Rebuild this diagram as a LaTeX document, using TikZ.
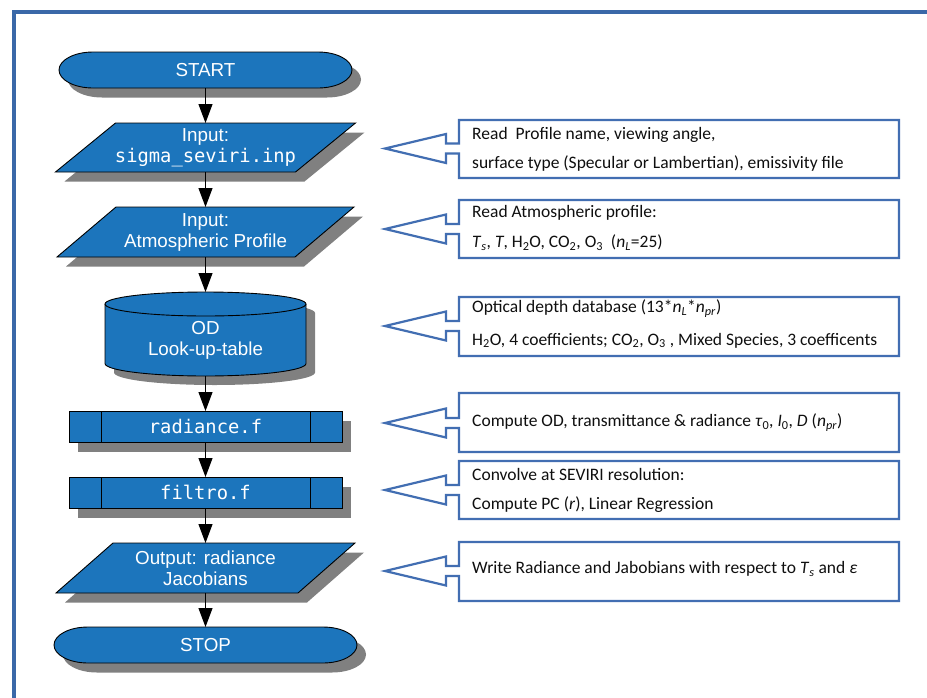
\documentclass[tikz,border=0pt]{standalone}
\usepackage{fontspec}
\setmainfont{Carlito}
\newfontfamily\lsans{Liberation Sans}
\newfontfamily\dmono{DejaVu Sans Mono}
\usetikzlibrary{arrows.meta}
\definecolor{fillblue}{RGB}{28,117,188}
\definecolor{shadowgray}{RGB}{128,128,128}
\definecolor{frameblue}{RGB}{58,104,168}
\definecolor{callblue}{RGB}{66,110,178}
\definecolor{txtdark}{RGB}{15,15,15}
\newcommand{\termshape}[3]{(#1+34,#3+18) -- (#2-34,#3+18) arc[start angle=90,end angle=-90,x radius=34,y radius=18] -- (#1+34,#3-18) arc[start angle=270,end angle=90,x radius=34,y radius=18] -- cycle}
\newcommand{\parashape}[5]{(#1-#3+#4,#2+#5) -- (#1+#3+#4,#2+#5) -- (#1+#3-#4,#2-#5) -- (#1-#3-#4,#2-#5) -- cycle}
\newcommand{\procshape}[1]{(69,#1+15.5) rectangle (342,#1-15.5)}
\newcommand{\callshape}[3]{(385,#3) -- (446,#3+14.5) -- (446,#3+5) -- (459,#3+5) -- (459,#1) -- (899,#1) -- (899,#2) -- (459,#2) -- (459,#3-5) -- (446,#3-5) -- (446,#3-14.5) -- cycle}
\tikzset{
  shadowfill/.style={fill=shadowgray, shift={(9,-9.5)}},
  mainshape/.style={fill=fillblue, draw=black, line width=0.9pt},
  shapebox/.style={rectangle, inner sep=0pt, outer sep=0pt, text=white, align=center,
    font=\lsans\fontsize{18.8}{21}\selectfont},
  flowarrow/.style={draw=black, line width=1.1pt, -{Triangle[length=19pt,width=14pt]}},
  callout/.style={draw=callblue, line width=2.2pt, fill=white, line join=miter},
  calltext/.style={anchor=base west, inner sep=0pt, text=txtdark, font=\fontsize{17.5}{20}\selectfont},
}
\begin{document}
\begin{tikzpicture}[x=1pt,y=1pt]
\useasboundingbox (0,0) rectangle (927,-697);
\fill[white] (0,0) rectangle (927,-697);
% frame
\draw[frameblue, line width=4pt] (940,-12) -- (14,-12) -- (14,-710);

% START
\fill[shadowfill] \termshape{59}{352}{-70};
\draw[mainshape] \termshape{59}{352}{-70};
\node[shapebox, minimum width=293pt, minimum height=36pt] (start) at (205.5,-70) {START};

% Input 1
\fill[shadowfill] \parashape{205.5}{-147.5}{120}{30}{24.5};
\draw[mainshape] \parashape{205.5}{-147.5}{120}{30}{24.5};
\node[shapebox, minimum width=240pt, minimum height=49pt] (p1) at (205.5,-147.5) {Input:\\{\dmono sigma\_seviri.inp}};

% Input 2
\fill[shadowfill] \parashape{205.5}{-232}{119}{29.5}{25};
\draw[mainshape] \parashape{205.5}{-232}{119}{29.5}{25};
\node[shapebox, minimum width=238pt, minimum height=50pt] (p2) at (205.5,-232) {Input:\\Atmospheric Profile};

% Cylinder
\fill[shadowgray, shift={(9,-9)}] (105,-304) -- (105,-363.5) arc[start angle=180,end angle=360,x radius=100.5,y radius=12.5] -- (306,-304) arc[start angle=0,end angle=180,x radius=100.5,y radius=12] -- cycle;
\draw[mainshape] (105,-304) -- (105,-363.5) arc[start angle=180,end angle=360,x radius=100.5,y radius=12.5] -- (306,-304) arc[start angle=0,end angle=180,x radius=100.5,y radius=12] -- cycle;
\draw[black, line width=0.9pt] (105,-304) arc[start angle=180,end angle=360,x radius=100.5,y radius=12];
\node[shapebox, minimum width=201pt, minimum height=84pt] (od) at (205.5,-334) {};
\node[shapebox] (odtxt) at (205.5,-340) {OD\\Look-up-table};

% radiance.f
\fill[shadowfill] \procshape{-426.5};
\draw[mainshape] \procshape{-426.5};
\draw[black, line width=0.9pt] (101,-411) -- (101,-442) (310,-411) -- (310,-442);
\node[shapebox, minimum width=273pt, minimum height=31pt] (rad) at (205.5,-426.5) {\dmono radiance.f};

% filtro.f
\fill[shadowfill] \procshape{-492.5};
\draw[mainshape] \procshape{-492.5};
\draw[black, line width=0.9pt] (101,-477) -- (101,-508) (310,-477) -- (310,-508);
\node[shapebox, minimum width=273pt, minimum height=31pt] (fil) at (205.5,-492.5) {\dmono filtro.f};

% Output
\fill[shadowfill] \parashape{205.5}{-568}{121}{28.5}{25};
\draw[mainshape] \parashape{205.5}{-568}{121}{28.5}{25};
\node[shapebox, minimum width=242pt, minimum height=50pt] (out) at (205.5,-568) {Output: radiance\\Jacobians};

% STOP
\fill[shadowfill] \termshape{54}{357}{-645};
\draw[mainshape] \termshape{54}{357}{-645};
\node[shapebox, minimum width=303pt, minimum height=36pt] (stop) at (205.5,-645) {STOP};

% connectors
\draw[flowarrow] (start) -- (p1);
\draw[flowarrow] (p1) -- (p2);
\draw[flowarrow] (p2) -- (od);
\draw[flowarrow] (od) -- (rad);
\draw[flowarrow] (rad) -- (fil);
\draw[flowarrow] (fil) -- (out);
\draw[flowarrow] (out) -- (stop);

% callouts
\draw[callout] \callshape{-120}{-178}{-148.5};
\node[calltext] (c1a) at (472,-139.5) {Read~ Profile name, viewing angle,};
\node[calltext] (c1b) at (472,-168) {surface type (Specular or Lambertian), emissivity file};

\draw[callout] \callshape{-200}{-258}{-229};
\node[calltext] (c2a) at (472,-217.5) {Read Atmospheric profile:};
\node[calltext] (c2b) at (472,-247.5) {\textit{T}\textsubscript{\textit{s}}, \textit{T}, H\textsubscript{2}O, CO\textsubscript{2}, O\textsubscript{3}~ (\textit{n}\textsubscript{\textit{L}}=25)};

\draw[callout] \callshape{-297}{-356}{-326};
\node[calltext] (c3a) at (472,-312.5) {Optical depth database (13*\textit{n}\textsubscript{\textit{L}}*\textit{n}\textsubscript{\textit{pr}})};
\node[calltext] (c3b) at (472,-345) {H\textsubscript{2}O, 4 coefficients; CO\textsubscript{2}, O\textsubscript{3} , Mixed Species, 3 coefficents};

\draw[callout] \callshape{-393}{-452}{-423};
\node[calltext] (c4a) at (472,-426.5) {Compute OD, transmittance \& radiance \textit{τ}\textsubscript{0}, \textit{I}\textsubscript{0}, \textit{D} (\textit{n}\textsubscript{\textit{pr}})};

\draw[callout] \callshape{-461}{-519}{-490};
\node[calltext] (c5a) at (472,-480.5) {Convolve at SEVIRI resolution:};
\node[calltext] (c5b) at (472,-509) {Compute PC (\textit{r}), Linear Regression};

\draw[callout] \callshape{-542}{-601}{-571};
\node[calltext] (c6a) at (472,-573.5) {Write Radiance and Jabobians with respect to \textit{T}\textsubscript{\textit{s}} and \textit{ε}};
\end{tikzpicture}
\end{document}
